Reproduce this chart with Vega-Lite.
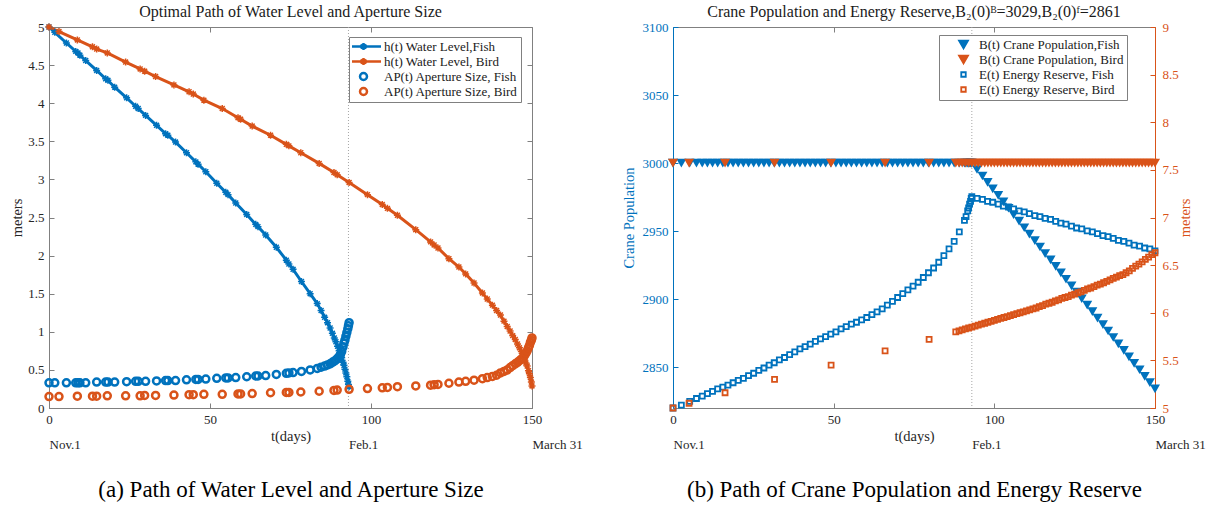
{
  "$schema": "https://vega.github.io/schema/vega-lite/v6.json",
  "background": "white",
  "padding": {"left": 9, "top": 3, "right": 5, "bottom": 2},
  "bounds": "flush",
  "spacing": 141,
  "config": {
    "font": "Liberation Serif",
    "view": {"stroke": "#808080", "strokeWidth": 1},
    "axis": {
      "labelFont": "Liberation Serif", "labelFontSize": 13, "labelColor": "#262626",
      "titleFont": "Liberation Serif", "titleFontSize": 14.5, "titleFontWeight": "normal", "titleColor": "#262626",
      "domainColor": "#808080", "tickColor": "#808080", "grid": false,
      "tickSize": -5, "labelPadding": 10, "labelFlush": false, "labelOverlap": false
    },
    "title": {"font": "Liberation Serif", "fontSize": 16, "fontWeight": "normal", "color": "#1a1a1a", "offset": 1},
    "legend": {
      "padding": 3, "strokeColor": "#808080", "fillColor": "white",
      "labelFont": "Liberation Serif", "labelFontSize": 13, "labelColor": "#1a1a1a",
      "rowPadding": 1, "clipHeight": 13, "symbolSize": 49, "symbolStrokeWidth": 2.5
    }
  },
  "datasets": {
    "feb": [{"t": 93}],
    "wl": [
      {"s":"hF","t":0,"v":5},{"s":"hF","t":1.8,"v":4.93},{"s":"hF","t":5.4,"v":4.79},{"s":"hF","t":8.3,"v":4.68},{"s":"hF","t":9,"v":4.66},{"s":"hF","t":9.6,"v":4.63},{"s":"hF","t":11.4,"v":4.56},{"s":"hF","t":14.8,"v":4.43},{"s":"hF","t":17.6,"v":4.32},{"s":"hF","t":18.3,"v":4.3},{"s":"hF","t":20.4,"v":4.21},{"s":"hF","t":24.1,"v":4.07},{"s":"hF","t":26.9,"v":3.96},{"s":"hF","t":27.7,"v":3.93},{"s":"hF","t":30,"v":3.84},{"s":"hF","t":33.4,"v":3.71},{"s":"hF","t":36.2,"v":3.6},{"s":"hF","t":36.9,"v":3.58},{"s":"hF","t":39.3,"v":3.49},{"s":"hF","t":42.7,"v":3.35},{"s":"hF","t":45.6,"v":3.23},{"s":"hF","t":46.3,"v":3.2},{"s":"hF","t":48.7,"v":3.1},{"s":"hF","t":52.1,"v":2.95},{"s":"hF","t":54.9,"v":2.83},{"s":"hF","t":55.6,"v":2.8},{"s":"hF","t":58,"v":2.69},{"s":"hF","t":61.4,"v":2.54},{"s":"hF","t":64.2,"v":2.41},{"s":"hF","t":64.9,"v":2.38},{"s":"hF","t":67.3,"v":2.27},{"s":"hF","t":70.6,"v":2.11},{"s":"hF","t":73.7,"v":1.94},{"s":"hF","t":74.5,"v":1.89},{"s":"hF","t":75.8,"v":1.82},{"s":"hF","t":78.4,"v":1.66},{"s":"hF","t":81.1,"v":1.5},{"s":"hF","t":83.3,"v":1.37},{"s":"hF","t":84.5,"v":1.28},{"s":"hF","t":85.6,"v":1.19},{"s":"hF","t":86.5,"v":1.12},{"s":"hF","t":87.3,"v":1.05},{"s":"hF","t":88,"v":0.98},{"s":"hF","t":88.6,"v":0.92},{"s":"hF","t":89.1,"v":0.87},{"s":"hF","t":89.6,"v":0.81},{"s":"hF","t":90.1,"v":0.75},{"s":"hF","t":90.5,"v":0.71},{"s":"hF","t":90.9,"v":0.66},{"s":"hF","t":91.3,"v":0.6},{"s":"hF","t":91.6,"v":0.56},{"s":"hF","t":91.9,"v":0.51},{"s":"hF","t":92.2,"v":0.46},{"s":"hF","t":92.5,"v":0.41},{"s":"hF","t":92.8,"v":0.35},{"s":"hF","t":93,"v":0.31},{"s":"hF","t":93.2,"v":0.28},
      {"s":"hB","t":0,"v":5},{"s":"hB","t":3.1,"v":4.94},{"s":"hB","t":8.8,"v":4.83},{"s":"hB","t":13.5,"v":4.74},{"s":"hB","t":14.8,"v":4.71},{"s":"hB","t":18.1,"v":4.66},{"s":"hB","t":23.8,"v":4.54},{"s":"hB","t":28.3,"v":4.45},{"s":"hB","t":29.7,"v":4.42},{"s":"hB","t":33.1,"v":4.35},{"s":"hB","t":38.8,"v":4.24},{"s":"hB","t":43.5,"v":4.15},{"s":"hB","t":44.8,"v":4.12},{"s":"hB","t":48.1,"v":4.04},{"s":"hB","t":53.8,"v":3.93},{"s":"hB","t":58.7,"v":3.81},{"s":"hB","t":59.5,"v":3.79},{"s":"hB","t":63.1,"v":3.7},{"s":"hB","t":68.8,"v":3.58},{"s":"hB","t":73.7,"v":3.46},{"s":"hB","t":74.5,"v":3.44},{"s":"hB","t":78.2,"v":3.35},{"s":"hB","t":83.9,"v":3.21},{"s":"hB","t":88.5,"v":3.09},{"s":"hB","t":89.5,"v":3.06},{"s":"hB","t":93.2,"v":2.96},{"s":"hB","t":98.9,"v":2.8},{"s":"hB","t":103.5,"v":2.67},{"s":"hB","t":105.1,"v":2.62},{"s":"hB","t":108.2,"v":2.53},{"s":"hB","t":113.9,"v":2.34},{"s":"hB","t":118.5,"v":2.18},{"s":"hB","t":119.6,"v":2.14},{"s":"hB","t":120.8,"v":2.1},{"s":"hB","t":124.2,"v":1.96},{"s":"hB","t":127.3,"v":1.85},{"s":"hB","t":129.4,"v":1.76},{"s":"hB","t":132,"v":1.64},{"s":"hB","t":134.6,"v":1.51},{"s":"hB","t":136.1,"v":1.43},{"s":"hB","t":137.7,"v":1.35},{"s":"hB","t":139,"v":1.28},{"s":"hB","t":140.2,"v":1.22},{"s":"hB","t":141.3,"v":1.14},{"s":"hB","t":142.3,"v":1.07},{"s":"hB","t":143.2,"v":1.01},{"s":"hB","t":144,"v":0.95},{"s":"hB","t":144.8,"v":0.9},{"s":"hB","t":145.5,"v":0.84},{"s":"hB","t":146.1,"v":0.79},{"s":"hB","t":146.7,"v":0.74},{"s":"hB","t":147.2,"v":0.69},{"s":"hB","t":147.7,"v":0.63},{"s":"hB","t":148.1,"v":0.59},{"s":"hB","t":148.5,"v":0.55},{"s":"hB","t":148.9,"v":0.49},{"s":"hB","t":149.2,"v":0.45},{"s":"hB","t":149.5,"v":0.4},{"s":"hB","t":149.8,"v":0.34},{"s":"hB","t":150,"v":0.29},
      {"s":"aF","t":0,"v":0.33},{"s":"aF","t":1.8,"v":0.33},{"s":"aF","t":5.4,"v":0.33},{"s":"aF","t":8.3,"v":0.33},{"s":"aF","t":9,"v":0.33},{"s":"aF","t":9.6,"v":0.33},{"s":"aF","t":11.4,"v":0.33},{"s":"aF","t":14.8,"v":0.34},{"s":"aF","t":17.6,"v":0.34},{"s":"aF","t":18.3,"v":0.34},{"s":"aF","t":20.4,"v":0.34},{"s":"aF","t":24.1,"v":0.345},{"s":"aF","t":26.9,"v":0.35},{"s":"aF","t":27.7,"v":0.35},{"s":"aF","t":30,"v":0.35},{"s":"aF","t":33.4,"v":0.355},{"s":"aF","t":36.2,"v":0.36},{"s":"aF","t":36.9,"v":0.36},{"s":"aF","t":39.3,"v":0.36},{"s":"aF","t":42.7,"v":0.37},{"s":"aF","t":45.6,"v":0.375},{"s":"aF","t":46.3,"v":0.375},{"s":"aF","t":48.7,"v":0.38},{"s":"aF","t":52.1,"v":0.39},{"s":"aF","t":54.9,"v":0.395},{"s":"aF","t":55.6,"v":0.395},{"s":"aF","t":58,"v":0.4},{"s":"aF","t":61.4,"v":0.41},{"s":"aF","t":64.2,"v":0.42},{"s":"aF","t":64.9,"v":0.42},{"s":"aF","t":67.3,"v":0.425},{"s":"aF","t":70.6,"v":0.44},{"s":"aF","t":73.7,"v":0.455},{"s":"aF","t":74.5,"v":0.46},{"s":"aF","t":75.8,"v":0.465},{"s":"aF","t":78.4,"v":0.48},{"s":"aF","t":81.1,"v":0.5},{"s":"aF","t":83.3,"v":0.52},{"s":"aF","t":84.5,"v":0.535},{"s":"aF","t":85.6,"v":0.55},{"s":"aF","t":86.5,"v":0.565},{"s":"aF","t":87.3,"v":0.58},{"s":"aF","t":88,"v":0.6},{"s":"aF","t":88.6,"v":0.615},{"s":"aF","t":89.1,"v":0.63},{"s":"aF","t":89.6,"v":0.65},{"s":"aF","t":90.1,"v":0.675},{"s":"aF","t":90.5,"v":0.7},{"s":"aF","t":90.9,"v":0.74},{"s":"aF","t":91.3,"v":0.8},{"s":"aF","t":91.6,"v":0.85},{"s":"aF","t":91.9,"v":0.89},{"s":"aF","t":92.2,"v":0.94},{"s":"aF","t":92.5,"v":0.99},{"s":"aF","t":92.8,"v":1.04},{"s":"aF","t":93,"v":1.08},{"s":"aF","t":93.2,"v":1.12},
      {"s":"aB","t":0,"v":0.15},{"s":"aB","t":3.1,"v":0.15},{"s":"aB","t":8.8,"v":0.155},{"s":"aB","t":13.5,"v":0.155},{"s":"aB","t":14.8,"v":0.155},{"s":"aB","t":18.1,"v":0.16},{"s":"aB","t":23.8,"v":0.16},{"s":"aB","t":28.3,"v":0.16},{"s":"aB","t":29.7,"v":0.165},{"s":"aB","t":33.1,"v":0.165},{"s":"aB","t":38.8,"v":0.17},{"s":"aB","t":43.5,"v":0.175},{"s":"aB","t":44.8,"v":0.175},{"s":"aB","t":48.1,"v":0.18},{"s":"aB","t":53.8,"v":0.18},{"s":"aB","t":58.7,"v":0.185},{"s":"aB","t":59.5,"v":0.185},{"s":"aB","t":63.1,"v":0.19},{"s":"aB","t":68.8,"v":0.2},{"s":"aB","t":73.7,"v":0.205},{"s":"aB","t":74.5,"v":0.205},{"s":"aB","t":78.2,"v":0.21},{"s":"aB","t":83.9,"v":0.22},{"s":"aB","t":88.5,"v":0.23},{"s":"aB","t":89.5,"v":0.235},{"s":"aB","t":93.2,"v":0.245},{"s":"aB","t":98.9,"v":0.255},{"s":"aB","t":103.5,"v":0.265},{"s":"aB","t":105.1,"v":0.27},{"s":"aB","t":108.2,"v":0.28},{"s":"aB","t":113.9,"v":0.29},{"s":"aB","t":118.5,"v":0.3},{"s":"aB","t":119.6,"v":0.305},{"s":"aB","t":120.8,"v":0.31},{"s":"aB","t":124.2,"v":0.325},{"s":"aB","t":127.3,"v":0.34},{"s":"aB","t":129.4,"v":0.35},{"s":"aB","t":132,"v":0.365},{"s":"aB","t":134.6,"v":0.385},{"s":"aB","t":136.1,"v":0.4},{"s":"aB","t":137.7,"v":0.415},{"s":"aB","t":139,"v":0.43},{"s":"aB","t":140.2,"v":0.46},{"s":"aB","t":141.3,"v":0.48},{"s":"aB","t":142.3,"v":0.5},{"s":"aB","t":143.2,"v":0.53},{"s":"aB","t":144,"v":0.555},{"s":"aB","t":144.8,"v":0.58},{"s":"aB","t":145.5,"v":0.6},{"s":"aB","t":146.1,"v":0.62},{"s":"aB","t":146.7,"v":0.64},{"s":"aB","t":147.2,"v":0.66},{"s":"aB","t":147.7,"v":0.69},{"s":"aB","t":148.1,"v":0.72},{"s":"aB","t":148.5,"v":0.75},{"s":"aB","t":148.9,"v":0.79},{"s":"aB","t":149.2,"v":0.82},{"s":"aB","t":149.5,"v":0.86},{"s":"aB","t":149.8,"v":0.89},{"s":"aB","t":150,"v":0.92}
    ],
    "cp": [
      {"s":"BF","t":0,"v":3000},{"s":"BF","t":2.6,"v":3000},{"s":"BF","t":5.2,"v":3000},{"s":"BF","t":7.3,"v":3000},{"s":"BF","t":9.1,"v":3000},{"s":"BF","t":10.7,"v":3000},{"s":"BF","t":12.3,"v":3000},{"s":"BF","t":13.9,"v":3000},{"s":"BF","t":15.5,"v":3000},{"s":"BF","t":17.1,"v":3000},{"s":"BF","t":18.7,"v":3000},{"s":"BF","t":20.3,"v":3000},{"s":"BF","t":21.9,"v":3000},{"s":"BF","t":23.5,"v":3000},{"s":"BF","t":25.1,"v":3000},{"s":"BF","t":26.7,"v":3000},{"s":"BF","t":28.3,"v":3000},{"s":"BF","t":29.9,"v":3000},{"s":"BF","t":31.5,"v":3000},{"s":"BF","t":33.1,"v":3000},{"s":"BF","t":34.7,"v":3000},{"s":"BF","t":36.3,"v":3000},{"s":"BF","t":37.9,"v":3000},{"s":"BF","t":39.5,"v":3000},{"s":"BF","t":41.1,"v":3000},{"s":"BF","t":42.7,"v":3000},{"s":"BF","t":44.3,"v":3000},{"s":"BF","t":45.9,"v":3000},{"s":"BF","t":47.5,"v":3000},{"s":"BF","t":49.1,"v":3000},{"s":"BF","t":50.7,"v":3000},{"s":"BF","t":52.3,"v":3000},{"s":"BF","t":53.9,"v":3000},{"s":"BF","t":55.5,"v":3000},{"s":"BF","t":57.1,"v":3000},{"s":"BF","t":58.7,"v":3000},{"s":"BF","t":60.3,"v":3000},{"s":"BF","t":61.9,"v":3000},{"s":"BF","t":63.5,"v":3000},{"s":"BF","t":65.1,"v":3000},{"s":"BF","t":66.7,"v":3000},{"s":"BF","t":68.3,"v":3000},{"s":"BF","t":69.9,"v":3000},{"s":"BF","t":71.5,"v":3000},{"s":"BF","t":73.1,"v":3000},{"s":"BF","t":74.7,"v":3000},{"s":"BF","t":76.3,"v":3000},{"s":"BF","t":77.9,"v":3000},{"s":"BF","t":79.5,"v":3000},{"s":"BF","t":81.1,"v":3000},{"s":"BF","t":82.7,"v":3000},{"s":"BF","t":84.3,"v":3000},{"s":"BF","t":85.9,"v":3000},{"s":"BF","t":87.5,"v":3000},{"s":"BF","t":89.1,"v":3000},{"s":"BF","t":90.7,"v":3000},{"s":"BF","t":91.2,"v":3000},{"s":"BF","t":91.7,"v":3000},{"s":"BF","t":92,"v":3000},{"s":"BF","t":92.3,"v":3000},{"s":"BF","t":92.6,"v":3000},{"s":"BF","t":92.8,"v":3000},{"s":"BF","t":93,"v":3000},
      {"s":"BF","t":94.6,"v":2995.3},{"s":"BF","t":96.3,"v":2990.5},{"s":"BF","t":97.9,"v":2985.8},{"s":"BF","t":99.5,"v":2981},{"s":"BF","t":101.2,"v":2976.3},{"s":"BF","t":102.8,"v":2971.5},{"s":"BF","t":104.4,"v":2966.8},{"s":"BF","t":106,"v":2962},{"s":"BF","t":107.7,"v":2957.3},{"s":"BF","t":109.3,"v":2952.5},{"s":"BF","t":110.9,"v":2947.8},{"s":"BF","t":112.6,"v":2943},{"s":"BF","t":114.2,"v":2938.3},{"s":"BF","t":115.8,"v":2933.5},{"s":"BF","t":117.5,"v":2928.8},{"s":"BF","t":119.1,"v":2924.1},{"s":"BF","t":120.7,"v":2919.3},{"s":"BF","t":122.3,"v":2914.6},{"s":"BF","t":124,"v":2909.8},{"s":"BF","t":125.6,"v":2905.1},{"s":"BF","t":127.2,"v":2900.3},{"s":"BF","t":128.9,"v":2895.6},{"s":"BF","t":130.5,"v":2890.8},{"s":"BF","t":132.1,"v":2886.1},{"s":"BF","t":133.8,"v":2881.3},{"s":"BF","t":135.4,"v":2876.6},{"s":"BF","t":137,"v":2871.8},{"s":"BF","t":138.6,"v":2867.1},{"s":"BF","t":140.3,"v":2862.3},{"s":"BF","t":141.9,"v":2857.6},{"s":"BF","t":143.5,"v":2852.8},{"s":"BF","t":145.2,"v":2848.1},{"s":"BF","t":146.8,"v":2843.3},{"s":"BF","t":148.4,"v":2838.6},{"s":"BF","t":150,"v":2834},
      {"s":"BB","t":0,"v":3000},{"s":"BB","t":5,"v":3000},{"s":"BB","t":16.2,"v":3000},{"s":"BB","t":31.6,"v":3000},{"s":"BB","t":49.2,"v":3000},{"s":"BB","t":66,"v":3000},{"s":"BB","t":79.7,"v":3000},{"s":"BB","t":88,"v":3000},{"s":"BB","t":89,"v":3000},{"s":"BB","t":90,"v":3000},{"s":"BB","t":91,"v":3000},{"s":"BB","t":92,"v":3000},{"s":"BB","t":93,"v":3000},{"s":"BB","t":94,"v":3000},{"s":"BB","t":95,"v":3000},{"s":"BB","t":96,"v":3000},{"s":"BB","t":97,"v":3000},{"s":"BB","t":98,"v":3000},{"s":"BB","t":99,"v":3000},{"s":"BB","t":100,"v":3000},{"s":"BB","t":101,"v":3000},{"s":"BB","t":102,"v":3000},{"s":"BB","t":103,"v":3000},{"s":"BB","t":104,"v":3000},{"s":"BB","t":105,"v":3000},{"s":"BB","t":106,"v":3000},{"s":"BB","t":107,"v":3000},{"s":"BB","t":108,"v":3000},{"s":"BB","t":109,"v":3000},{"s":"BB","t":110,"v":3000},{"s":"BB","t":111,"v":3000},{"s":"BB","t":112,"v":3000},{"s":"BB","t":113,"v":3000},{"s":"BB","t":114,"v":3000},{"s":"BB","t":115,"v":3000},{"s":"BB","t":116,"v":3000},{"s":"BB","t":117,"v":3000},{"s":"BB","t":118,"v":3000},{"s":"BB","t":119,"v":3000},{"s":"BB","t":120,"v":3000},{"s":"BB","t":121,"v":3000},{"s":"BB","t":122,"v":3000},{"s":"BB","t":123,"v":3000},{"s":"BB","t":124,"v":3000},{"s":"BB","t":125,"v":3000},{"s":"BB","t":126,"v":3000},{"s":"BB","t":127,"v":3000},{"s":"BB","t":128,"v":3000},{"s":"BB","t":129,"v":3000},{"s":"BB","t":130,"v":3000},{"s":"BB","t":131,"v":3000},{"s":"BB","t":132,"v":3000},{"s":"BB","t":133,"v":3000},{"s":"BB","t":134,"v":3000},{"s":"BB","t":135,"v":3000},{"s":"BB","t":136,"v":3000},{"s":"BB","t":137,"v":3000},{"s":"BB","t":138,"v":3000},{"s":"BB","t":139,"v":3000},{"s":"BB","t":140,"v":3000},{"s":"BB","t":141,"v":3000},{"s":"BB","t":142,"v":3000},{"s":"BB","t":143,"v":3000},{"s":"BB","t":144,"v":3000},{"s":"BB","t":145,"v":3000},{"s":"BB","t":146,"v":3000},{"s":"BB","t":147,"v":3000},{"s":"BB","t":148,"v":3000},{"s":"BB","t":149,"v":3000},{"s":"BB","t":150,"v":3000},
      {"s":"EF","t":0,"v":5},{"s":"EF","t":2.6,"v":5.03},{"s":"EF","t":5.2,"v":5.07},{"s":"EF","t":7.3,"v":5.1},{"s":"EF","t":9.1,"v":5.125},{"s":"EF","t":10.7,"v":5.15},{"s":"EF","t":12.3,"v":5.175},{"s":"EF","t":13.9,"v":5.2},{"s":"EF","t":15.5,"v":5.22},{"s":"EF","t":17.1,"v":5.24},{"s":"EF","t":18.7,"v":5.265},{"s":"EF","t":20.3,"v":5.29},{"s":"EF","t":21.9,"v":5.31},{"s":"EF","t":23.5,"v":5.34},{"s":"EF","t":25.1,"v":5.365},{"s":"EF","t":26.7,"v":5.395},{"s":"EF","t":28.3,"v":5.42},{"s":"EF","t":29.9,"v":5.45},{"s":"EF","t":31.5,"v":5.475},{"s":"EF","t":33.1,"v":5.505},{"s":"EF","t":34.7,"v":5.53},{"s":"EF","t":36.3,"v":5.56},{"s":"EF","t":37.9,"v":5.59},{"s":"EF","t":39.5,"v":5.62},{"s":"EF","t":41.1,"v":5.645},{"s":"EF","t":42.7,"v":5.67},{"s":"EF","t":44.3,"v":5.7},{"s":"EF","t":45.9,"v":5.725},{"s":"EF","t":47.5,"v":5.75},{"s":"EF","t":49.1,"v":5.775},{"s":"EF","t":50.7,"v":5.8},{"s":"EF","t":52.3,"v":5.83},{"s":"EF","t":53.9,"v":5.855},{"s":"EF","t":55.5,"v":5.88},{"s":"EF","t":57.1,"v":5.9},{"s":"EF","t":58.7,"v":5.925},{"s":"EF","t":60.3,"v":5.95},{"s":"EF","t":61.9,"v":5.98},{"s":"EF","t":63.5,"v":6.01},{"s":"EF","t":65.1,"v":6.04},{"s":"EF","t":66.7,"v":6.08},{"s":"EF","t":68.3,"v":6.12},{"s":"EF","t":69.9,"v":6.16},{"s":"EF","t":71.5,"v":6.2},{"s":"EF","t":73.1,"v":6.24},{"s":"EF","t":74.7,"v":6.28},{"s":"EF","t":76.3,"v":6.32},{"s":"EF","t":77.9,"v":6.37},{"s":"EF","t":79.5,"v":6.42},{"s":"EF","t":81.1,"v":6.47},{"s":"EF","t":82.7,"v":6.53},{"s":"EF","t":84.3,"v":6.6},{"s":"EF","t":85.9,"v":6.67},{"s":"EF","t":87.5,"v":6.75},{"s":"EF","t":89.1,"v":6.85},{"s":"EF","t":90.7,"v":6.97},{"s":"EF","t":91.2,"v":7.01},{"s":"EF","t":91.7,"v":7.07},{"s":"EF","t":92,"v":7.1},{"s":"EF","t":92.3,"v":7.14},{"s":"EF","t":92.6,"v":7.17},{"s":"EF","t":92.8,"v":7.2},{"s":"EF","t":93,"v":7.22},
      {"s":"EF","t":94.6,"v":7.2},{"s":"EF","t":96.3,"v":7.19},{"s":"EF","t":97.9,"v":7.17},{"s":"EF","t":99.5,"v":7.16},{"s":"EF","t":101.2,"v":7.14},{"s":"EF","t":102.8,"v":7.12},{"s":"EF","t":104.4,"v":7.11},{"s":"EF","t":106,"v":7.09},{"s":"EF","t":107.7,"v":7.07},{"s":"EF","t":109.3,"v":7.06},{"s":"EF","t":110.9,"v":7.04},{"s":"EF","t":112.6,"v":7.02},{"s":"EF","t":114.2,"v":7.01},{"s":"EF","t":115.8,"v":6.99},{"s":"EF","t":117.5,"v":6.98},{"s":"EF","t":119.1,"v":6.96},{"s":"EF","t":120.7,"v":6.94},{"s":"EF","t":122.3,"v":6.93},{"s":"EF","t":124,"v":6.91},{"s":"EF","t":125.6,"v":6.89},{"s":"EF","t":127.2,"v":6.88},{"s":"EF","t":128.9,"v":6.86},{"s":"EF","t":130.5,"v":6.85},{"s":"EF","t":132.1,"v":6.83},{"s":"EF","t":133.8,"v":6.81},{"s":"EF","t":135.4,"v":6.8},{"s":"EF","t":137,"v":6.78},{"s":"EF","t":138.6,"v":6.76},{"s":"EF","t":140.3,"v":6.75},{"s":"EF","t":141.9,"v":6.73},{"s":"EF","t":143.5,"v":6.71},{"s":"EF","t":145.2,"v":6.7},{"s":"EF","t":146.8,"v":6.68},{"s":"EF","t":148.4,"v":6.67},{"s":"EF","t":150,"v":6.65},
      {"s":"EB","t":0,"v":5},{"s":"EB","t":5,"v":5.05},{"s":"EB","t":16.2,"v":5.16},{"s":"EB","t":31.6,"v":5.3},{"s":"EB","t":49.2,"v":5.45},{"s":"EB","t":66,"v":5.6},{"s":"EB","t":79.7,"v":5.72},{"s":"EB","t":88,"v":5.8},{"s":"EB","t":89,"v":5.81},{"s":"EB","t":90,"v":5.82},{"s":"EB","t":91,"v":5.83},{"s":"EB","t":92,"v":5.84},{"s":"EB","t":93,"v":5.85},{"s":"EB","t":94,"v":5.86},{"s":"EB","t":95,"v":5.87},{"s":"EB","t":96,"v":5.88},{"s":"EB","t":97,"v":5.89},{"s":"EB","t":98,"v":5.9},{"s":"EB","t":99,"v":5.91},{"s":"EB","t":100,"v":5.92},{"s":"EB","t":101,"v":5.93},{"s":"EB","t":102,"v":5.94},{"s":"EB","t":103,"v":5.95},{"s":"EB","t":104,"v":5.96},{"s":"EB","t":105,"v":5.97},{"s":"EB","t":106,"v":5.98},{"s":"EB","t":107,"v":5.99},{"s":"EB","t":108,"v":6},{"s":"EB","t":109,"v":6.01},{"s":"EB","t":110,"v":6.02},{"s":"EB","t":111,"v":6.03},{"s":"EB","t":112,"v":6.04},{"s":"EB","t":113,"v":6.05},{"s":"EB","t":114,"v":6.065},{"s":"EB","t":115,"v":6.075},{"s":"EB","t":116,"v":6.09},{"s":"EB","t":117,"v":6.1},{"s":"EB","t":118,"v":6.11},{"s":"EB","t":119,"v":6.125},{"s":"EB","t":120,"v":6.135},{"s":"EB","t":121,"v":6.15},{"s":"EB","t":122,"v":6.16},{"s":"EB","t":123,"v":6.17},{"s":"EB","t":124,"v":6.185},{"s":"EB","t":125,"v":6.195},{"s":"EB","t":126,"v":6.21},{"s":"EB","t":127,"v":6.22},{"s":"EB","t":128,"v":6.235},{"s":"EB","t":129,"v":6.25},{"s":"EB","t":130,"v":6.26},{"s":"EB","t":131,"v":6.275},{"s":"EB","t":132,"v":6.29},{"s":"EB","t":133,"v":6.3},{"s":"EB","t":134,"v":6.315},{"s":"EB","t":135,"v":6.33},{"s":"EB","t":136,"v":6.345},{"s":"EB","t":137,"v":6.36},{"s":"EB","t":138,"v":6.375},{"s":"EB","t":139,"v":6.39},{"s":"EB","t":140,"v":6.4},{"s":"EB","t":141,"v":6.42},{"s":"EB","t":142,"v":6.44},{"s":"EB","t":143,"v":6.465},{"s":"EB","t":144,"v":6.49},{"s":"EB","t":145,"v":6.51},{"s":"EB","t":146,"v":6.535},{"s":"EB","t":147,"v":6.56},{"s":"EB","t":148,"v":6.585},{"s":"EB","t":149,"v":6.61},{"s":"EB","t":150,"v":6.63}
    ]
  },
  "hconcat": [
    {
      "width": 483,
      "height": 381,
      "title": {"text": "Optimal Path of Water Level and Aperture Size"},
      "layer": [
        {
          "data": {"name": "feb"},
          "mark": {"type": "rule", "color": "#a6a6a6", "strokeWidth": 1, "strokeDash": [1, 2]},
          "encoding": {
            "x": {"field": "t", "type": "quantitative", "scale": {"domain": [0, 150], "nice": false, "zero": false},
              "axis": {"orient": "bottom", "values": [0, 50, 100, 150], "title": "t(days)", "titlePadding": 3}}
          }
        },
        {
          "data": {"name": "wl"},
          "transform": [{"filter": "datum.s == 'hF' || datum.s == 'hB'"}],
          "mark": {"type": "line", "strokeWidth": 3},
          "encoding": {
            "x": {"field": "t", "type": "quantitative", "axis": {"orient": "top", "values": [0, 50, 100, 150], "labels": false, "domain": false, "title": null}},
            "y": {"field": "v", "type": "quantitative", "scale": {"domain": [0, 5], "nice": false},
              "axis": {"orient": "left", "values": [0, 0.5, 1, 1.5, 2, 2.5, 3, 3.5, 4, 4.5, 5], "format": "~g", "title": "meters", "titlePadding": 3}},
            "color": {"field": "s", "type": "nominal",
              "scale": {"domain": ["hF", "hB", "aF", "aB"], "range": ["#0072BD", "#D95319", "#0072BD", "#D95319"]},
              "legend": {
                "title": null, "orient": "none", "legendX": 300, "legendY": 10,
                "symbolOffset": 5, "labelOffset": 14,
                "labelExpr": "datum.value == 'hF' ? 'h(t) Water Level,Fish' : (datum.value == 'hB' ? 'h(t) Water Level, Bird' : (datum.value == 'aF' ? 'AP(t) Aperture Size, Fish' : 'AP(t) Aperture Size, Bird'))",
                "encode": {
                  "symbols": {
                    "update": {
                      "shape": {"signal": "datum.value == 'hF' || datum.value == 'hB' ? 'M-5,0L5,0M0,-1L0,1M-0.87,-0.5L0.87,0.5M-0.87,0.5L0.87,-0.5' : 'circle'"},
                      "stroke": {"signal": "datum.value == 'hF' || datum.value == 'aF' ? '#0072BD' : '#D95319'"},
                      "fill": {"value": "transparent"},
                      "size": {"value": 49},
                      "strokeWidth": {"value": 2.5},
                      "opacity": {"value": 1}
                    }
                  }
                }
              }}
          }
        },
        {
          "data": {"name": "wl"},
          "transform": [{"filter": "datum.s == 'hF' || datum.s == 'hB'"}],
          "mark": {"type": "point", "shape": "M-1,0L1,0M0,-1L0,1M-0.7,-0.7L0.7,0.7M-0.7,0.7L0.7,-0.7", "filled": false, "size": 49, "strokeWidth": 1.5, "opacity": 1},
          "encoding": {
            "x": {"field": "t", "type": "quantitative", "axis": null},
            "y": {"field": "v", "type": "quantitative",
              "axis": {"orient": "right", "values": [0, 0.5, 1, 1.5, 2, 2.5, 3, 3.5, 4, 4.5, 5], "labels": false, "domain": false, "title": null}},
            "color": {"condition": {"test": "datum.s == 'hF'", "value": "#0072BD"}, "value": "#D95319"}
          }
        },
        {
          "data": {"name": "wl"},
          "transform": [{"filter": "datum.s == 'aF' || datum.s == 'aB'"}],
          "mark": {"type": "point", "shape": "circle", "filled": false, "size": 49, "strokeWidth": 2.5, "opacity": 1},
          "encoding": {
            "x": {"field": "t", "type": "quantitative",
              "axis": {"orient": "bottom", "values": [0, 93, 150],
                "labelExpr": "datum.value == 0 ? 'Nov.1' : (datum.value == 93 ? 'Feb.1' : 'March 31')",
                "labelAlign": "left", "ticks": false, "tickSize": 0, "domain": false, "labelPadding": 30,
                "title": "(a) Path of Water Level and Aperture Size", "titleFontSize": 23, "titleColor": "#000000", "titlePadding": 27}},
            "y": {"field": "v", "type": "quantitative", "axis": null},
            "color": {"condition": {"test": "datum.s == 'aF'", "value": "#0072BD"}, "value": "#D95319"}
          }
        }
      ],
      "resolve": {"axis": {"x": "independent", "y": "independent"}}
    },
    {
      "width": 482,
      "height": 381,
      "title": {"text": "Crane Population and Energy Reserve,B₂(0)ᴮ=3029,B₂(0)ᶠ=2861"},
      "layer": [
        {
          "data": {"name": "feb"},
          "mark": {"type": "rule", "color": "#a6a6a6", "strokeWidth": 1, "strokeDash": [1, 2]},
          "encoding": {
            "x": {"field": "t", "type": "quantitative", "scale": {"domain": [0, 150], "nice": false, "zero": false},
              "axis": {"orient": "bottom", "values": [0, 50, 100, 150], "title": "t(days)", "titlePadding": 3}}
          }
        },
        {
          "data": {"name": "cp"},
          "transform": [{"filter": "datum.s == 'BF' || datum.s == 'BB'"}],
          "mark": {"type": "point", "shape": "triangle-down", "filled": true, "size": 100, "opacity": 1},
          "encoding": {
            "x": {"field": "t", "type": "quantitative", "axis": {"orient": "top", "values": [0, 50, 100, 150], "labels": false, "domain": false, "title": null}},
            "y": {"field": "v", "type": "quantitative", "scale": {"domain": [2820, 3100], "nice": false, "zero": false},
              "axis": {"orient": "left", "values": [2850, 2900, 2950, 3000, 3050, 3100], "format": "d", "title": "Crane Population", "titlePadding": 6,
                "titleColor": "#0072BD", "labelColor": "#0072BD", "domainColor": "#0072BD", "tickColor": "#0072BD"}},
            "color": {"condition": {"test": "datum.s == 'BF'", "value": "#0072BD"}, "value": "#D95319"}
          }
        },
        {
          "data": {"name": "cp"},
          "transform": [{"filter": "datum.s == 'EF' || datum.s == 'EB'"}],
          "mark": {"type": "point", "filled": false, "size": 100, "strokeWidth": 1.8, "opacity": 1},
          "encoding": {
            "x": {"field": "t", "type": "quantitative",
              "axis": {"orient": "bottom", "values": [0, 93, 150],
                "labelExpr": "datum.value == 0 ? 'Nov.1' : (datum.value == 93 ? 'Feb.1' : 'March 31')",
                "labelAlign": "left", "ticks": false, "tickSize": 0, "domain": false, "labelPadding": 30,
                "title": "(b) Path of Crane Population and Energy Reserve", "titleFontSize": 23, "titleColor": "#000000", "titlePadding": 27}},
            "y": {"field": "v", "type": "quantitative", "scale": {"domain": [5, 9], "nice": false, "zero": false},
              "axis": {"orient": "right", "values": [5, 5.5, 6, 6.5, 7, 7.5, 8, 8.5, 9], "format": "~g", "title": "meters", "titleAngle": 270, "titlePadding": 14, "labelPadding": 12,
                "titleColor": "#D95319", "labelColor": "#D95319", "domainColor": "#D95319", "tickColor": "#D95319"}},
            "color": {"field": "s", "type": "nominal",
              "scale": {"domain": ["BF", "BB", "EF", "EB"], "range": ["#0072BD", "#D95319", "#0072BD", "#D95319"]},
              "legend": {
                "title": null, "orient": "none", "legendX": 266, "legendY": 8,
                "symbolOffset": 15, "labelOffset": 9, "symbolSize": 81, "symbolStrokeWidth": 1.8,
                "labelExpr": "datum.value == 'BF' ? 'B(t) Crane Population,Fish' : (datum.value == 'BB' ? 'B(t) Crane Population, Bird' : (datum.value == 'EF' ? 'E(t) Energy Reserve, Fish' : 'E(t) Energy Reserve, Bird'))"
              }},
            "fill": {"field": "s", "type": "nominal",
              "scale": {"domain": ["BF", "BB", "EF", "EB"], "range": ["#0072BD", "#D95319", "transparent", "transparent"]}},
            "shape": {"field": "s", "type": "nominal",
              "scale": {"domain": ["BF", "BB", "EF", "EB"], "range": ["triangle-down", "triangle-down", "M-0.5,-0.5L0.5,-0.5L0.5,0.5L-0.5,0.5Z", "M-0.5,-0.5L0.5,-0.5L0.5,0.5L-0.5,0.5Z"]}}
          }
        }
      ],
      "resolve": {"scale": {"y": "independent"}, "axis": {"x": "independent", "y": "independent"}}
    }
  ],
  "resolve": {"scale": {"color": "independent", "fill": "independent", "shape": "independent"}, "legend": {"color": "independent", "fill": "independent", "shape": "independent"}}
}
